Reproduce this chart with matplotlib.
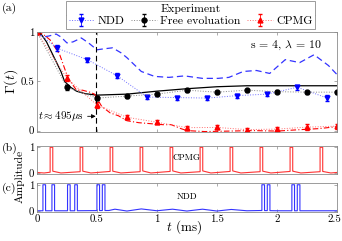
"""Decoherence under free evolution, CPMG and NDD with the pulse sequences."""
import numpy as np
import matplotlib
matplotlib.use("Agg")
import matplotlib.pyplot as plt
import matplotlib.transforms as mtransforms
from matplotlib.lines import Line2D

plt.rcParams["font.family"] = "serif"
plt.rcParams["font.serif"] = ["cmr10", "DejaVu Serif"]
plt.rcParams["mathtext.fontset"] = "cm"
plt.rcParams["axes.formatter.use_mathtext"] = True

# --- experiment
t_free = [0, 0.25, 0.5, 0.75, 1.0, 1.25, 1.5, 1.75, 2.0, 2.25, 2.5]
g_free = [1.0, 0.44, 0.33, 0.35, 0.37, 0.41, 0.39, 0.41, 0.395, 0.39, 0.39]
e_free = [0.01, 0.025, 0.02, 0.015, 0.015, 0.015, 0.015, 0.015, 0.015, 0.015, 0.015]

t_ndd = [0, 0.17, 0.42, 0.67, 0.92, 1.17, 1.42, 1.67, 1.92, 2.17, 2.42]
g_ndd = [1.0, 0.835, 0.72, 0.555, 0.34, 0.335, 0.33, 0.355, 0.37, 0.44, 0.33]
e_ndd = [0.01, 0.03, 0.02, 0.025, 0.015, 0.02, 0.02, 0.02, 0.02, 0.025, 0.03]

t_cpmg = [0, 0.25, 0.5, 0.75, 1.0, 1.25, 1.5, 1.75, 2.0, 2.25, 2.5]
g_cpmg = [1.0, 0.53, 0.26, 0.135, 0.085, 0.03, 0.032, 0.01, 0.015, 0.035, 0.045]
e_cpmg = [0.01, 0.03, 0.03, 0.02, 0.02, 0.02, 0.02, 0.02, 0.02, 0.03, 0.025]

# --- theory
th_free_t = [0, 0.04, 0.08, 0.12, 0.16, 0.2, 0.23, 0.28, 0.33, 0.4, 0.5,
             0.75, 1.0, 1.25, 1.5, 1.75, 2.0, 2.5]
th_free_g = [1.0, 0.97, 0.9, 0.8, 0.7, 0.6, 0.5, 0.44, 0.4, 0.375, 0.36,
             0.37, 0.4, 0.425, 0.445, 0.455, 0.455, 0.455]

th_ndd_t = [0, 0.05, 0.1, 0.16, 0.2, 0.25, 0.3, 0.37, 0.43, 0.5, 0.56, 0.63,
            0.7, 0.75, 0.87, 0.98, 1.1, 1.23, 1.38, 1.51, 1.6, 1.72, 1.83,
            1.94, 2.07, 2.19, 2.31, 2.43, 2.5]
th_ndd_g = [1.0, 0.95, 0.96, 0.98, 0.95, 0.89, 0.9, 0.94, 0.89, 0.82, 0.83, 0.84,
            0.79, 0.74, 0.6, 0.55, 0.54, 0.555, 0.53, 0.53, 0.54, 0.6, 0.61,
            0.58, 0.72, 0.69, 0.77, 0.66, 0.57]

th_cpmg_t = [0, 0.05, 0.11, 0.19, 0.26, 0.33, 0.38, 0.44, 0.48, 0.54, 0.61,
             0.68, 0.75, 0.85, 0.95, 1.05, 1.12, 1.2, 1.25, 1.4, 1.6, 1.8,
             2.0, 2.2, 2.35, 2.5]
th_cpmg_g = [1.0, 0.98, 0.92, 0.77, 0.53, 0.41, 0.41, 0.39, 0.37, 0.245, 0.18,
             0.15, 0.1, 0.08, 0.07, 0.06, 0.06, 0.02, 0.0, -0.01, -0.005, 0.0,
             -0.005, 0.01, 0.02, 0.04]

# --- pulse sequences
pulse_w = 0.022
cpmg_starts = [0.11, 0.36, 0.61, 0.86, 1.11, 1.36, 1.61, 1.86, 2.11, 2.36]
cpmg_base_t = [0, 0.06, 0.11, 0.132, 0.2, 0.36, 0.382, 0.45, 0.61, 0.632, 0.7,
               0.86, 0.882, 0.95, 1.11, 1.132, 1.2, 1.36, 1.382, 1.45, 1.61,
               1.632, 1.7, 1.86, 1.882, 1.95, 2.11, 2.132, 2.2, 2.36, 2.382,
               2.45, 2.5]
cpmg_base_v = [0.02, 0.0, 0.03, 0.07, 0.0, 0.05, 0.07, 0.0, 0.06, 0.07, 0.0,
               0.05, 0.08, 0.0, 0.06, 0.08, 0.0, 0.05, 0.08, 0.0, 0.06,
               0.08, 0.0, 0.05, 0.07, 0.0, 0.06, 0.07, 0.0, 0.05, 0.06,
               0.0, 0.02]

ndd_starts = [0.05, 0.125, 0.255, 0.315, 0.5, 0.545, 1.875, 1.92, 2.125, 2.17]
ndd_base_t = [0, 0.3, 0.6, 0.65, 0.75, 0.87, 1.0, 1.13, 1.25, 1.38, 1.5,
              1.62, 1.75, 1.87, 2.0, 2.25, 2.5]
ndd_base_v = [0.01, 0.01, 0.02, 0.07, 0.0, 0.08, 0.01, 0.07, 0.0, 0.07, 0.0,
              0.06, 0.01, 0.02, 0.01, 0.01, 0.01]


def pulse_trace(starts, width, base_t, base_v):
    ts, vs = [], []
    k = 0
    for a in starts:
        b = a + width
        while k < len(base_t) and base_t[k] < a:
            ts.append(base_t[k]); vs.append(base_v[k]); k += 1
        ts += [a, a, b, b]
        vs += [np.interp(a, base_t, base_v), 1, 1, np.interp(b, base_t, base_v)]
        while k < len(base_t) and base_t[k] <= b:
            k += 1
    ts += list(base_t[k:]); vs += list(base_v[k:])
    return ts, vs


frame = "#8c8c8c"
blue, red = "#0000ff", "#ff0000"

fig = plt.figure(figsize=(3.42, 2.41), dpi=100)
ax = fig.add_axes([0.108, 0.452, 0.877, 0.415])
axb = fig.add_axes([0.108, 0.278, 0.877, 0.116])
axc = fig.add_axes([0.108, 0.120, 0.877, 0.121])

# --- (a)
ax.plot(th_ndd_t, th_ndd_g, color="#3333ff", lw=0.9, ls=(0, (5, 3)))
ax.plot(th_free_t, th_free_g, color="k", lw=0.9)
ax.plot(th_cpmg_t, th_cpmg_g, color=red, lw=0.8, ls=(0, (5, 2, 1, 2)))

h_ndd = ax.errorbar(t_ndd, g_ndd, yerr=e_ndd, fmt="v", ls=":", color="#6f6fff",
                    mfc=blue, mec=blue, ecolor=blue, ms=3.5, lw=0.7,
                    elinewidth=0.6, capsize=1.5, label="NDD")
h_free = ax.errorbar(t_free, g_free, yerr=e_free, fmt="o", ls=":", color="#888888",
                     mfc="k", mec="k", ecolor="k", ms=3.5, lw=0.7,
                     elinewidth=0.6, capsize=1.5, label="Free evoluation")
h_cpmg = ax.errorbar(t_cpmg, g_cpmg, yerr=e_cpmg, fmt="^", ls=":", color="#ff6f6f",
                     mfc=red, mec=red, ecolor=red, ms=3.5, lw=0.7,
                     elinewidth=0.6, capsize=1.5, label="CPMG")

ax.axvline(0.495, color="k", lw=0.8, ls=(0, (5, 3)))
ax.annotate(r"$t\approx 495\mu$s", xy=(0.49, 0.145), xytext=(0.005, 0.145),
            fontsize=8, va="center", ha="left",
            arrowprops=dict(arrowstyle="-|>", color="k", lw=0.6,
                            mutation_scale=6, shrinkA=1, shrinkB=0))
ax.text(0.83, 0.87, r"s = 4, $\lambda$ = 10", transform=ax.transAxes,
        ha="center", va="center", fontsize=8.5)

ax.set_xlim(0, 2.5)
ax.set_ylim(-0.015, 1.0)
ax.set_yticks([0, 0.5, 1])
ax.set_yticklabels(["0", "0.5", "1"])
ax.set_xticks([0, 0.5, 1, 1.5, 2, 2.5])
ax.set_xticklabels([])

# --- (b)
tb, vb = pulse_trace(cpmg_starts, pulse_w, cpmg_base_t, cpmg_base_v)
axb.plot(tb, vb, color="#ff3333", lw=0.8)
axb.text(1.25, 0.6, "CPMG", ha="center", va="center", fontsize=6.5)
axb.set_ylim(-0.04, 1.05)

# --- (c)
tc, vc = pulse_trace(ndd_starts, pulse_w, ndd_base_t, ndd_base_v)
axc.plot(tc, vc, color="#3333ff", lw=0.8)
axc.text(1.25, 0.55, "NDD", ha="center", va="center", fontsize=6.5)
axc.set_ylim(-0.04, 1.07)

for a in (axb, axc):
    a.set_xlim(0, 2.5)
    a.set_yticks([0, 1])
    a.set_yticklabels(["0", "1"])
    a.set_xticks([0, 0.5, 1, 1.5, 2, 2.5])
axb.set_xticklabels([])
axc.set_xticklabels(["0", "0.5", "1", "1.5", "2", "2.5"])
axc.set_xlabel(r"$t$ (ms)", fontsize=9.5)
axc.xaxis.set_label_coords(0.49, -0.2)
axc.xaxis.label.set_va("top")

for a in (ax, axb, axc):
    a.tick_params(direction="in", top=True, right=True, length=2.5,
                  width=0.5, color=frame, labelsize=7.8, pad=2)
    for s in a.spines.values():
        s.set_color(frame)
        s.set_linewidth(0.6)

# keep the last tick label inside the canvas
last = axc.get_xticklabels()[-1]
last.set_ha("right")
last.set_transform(last.get_transform() +
                   mtransforms.ScaledTranslation(3 / 72, 0, fig.dpi_scale_trans))

fig.text(0.005, 0.965, "(a)", fontsize=8.5, va="center")
fig.text(0.005, 0.386, "(b)", fontsize=8.5, va="center")
fig.text(0.005, 0.22, "(c)", fontsize=8.5, va="center")
fig.text(0.032, 0.662, r"$\Gamma(t)$", fontsize=10, rotation=90,
         ha="center", va="center")
fig.text(0.058, 0.266, "Amplitude", fontsize=8.3, rotation=90,
         ha="center", va="center")

leg = fig.legend(handles=[h_ndd, h_free, h_cpmg], loc="upper center",
                 bbox_to_anchor=(0.557, 1.0), ncol=3, fontsize=8.5,
                 title="Experiment", title_fontsize=8.5, frameon=True,
                 fancybox=False, edgecolor=frame, borderpad=0.2,
                 handlelength=2.2, handletextpad=0.3, columnspacing=0.5,
                 borderaxespad=0.1, framealpha=1, labelspacing=0.2)
leg.get_frame().set_linewidth(0.6)

fig.canvas.draw()
bb = leg.get_window_extent().transformed(fig.transFigure.inverted())
ybar = bb.y0 + 0.5 * bb.height
fig.add_artist(Line2D([bb.x0, bb.x1], [ybar, ybar], color=frame, lw=0.6,
                      transform=fig.transFigure))

fig.savefig("out.png", dpi=100)
